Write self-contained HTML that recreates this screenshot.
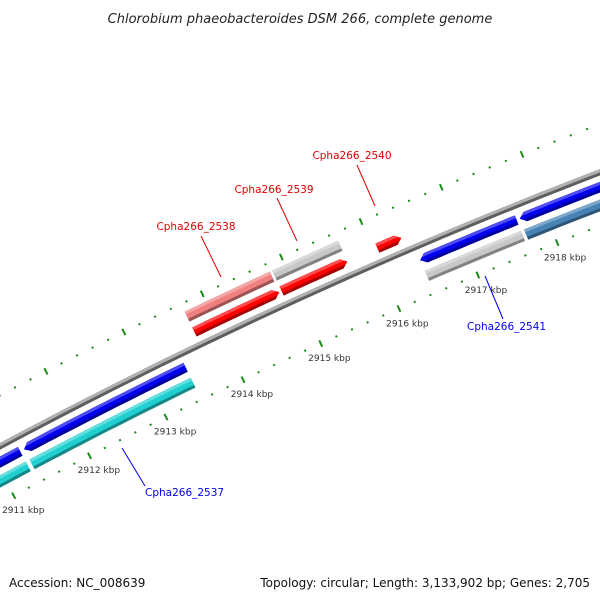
<!DOCTYPE html>
<html><head><meta charset="utf-8"><style>
html,body{margin:0;padding:0;background:#fff;width:600px;height:600px;overflow:hidden}
svg{display:block;font-family:"DejaVu Sans","Liberation Sans",sans-serif}
</style></head><body>
<svg id="chart" width="600" height="600" viewBox="0 0 600 600" xmlns="http://www.w3.org/2000/svg">
<rect width="600" height="600" fill="#fff"/>
<text x="300" y="23" text-anchor="middle" font-size="13" font-style="italic" fill="#222">Chlorobium phaeobacteroides DSM 266, complete genome</text>
<g id="plot"></g>
<text x="9" y="587" font-size="12" fill="#111">Accession: NC_008639</text>
<text x="590" y="587" text-anchor="end" font-size="12" fill="#111">Topology: circular; Length: 3,133,902 bp; Genes: 2,705</text>
</svg>
<script>
// data (kbp positions)
var fwdStarts = [2913.73, 2914.84, 2916.05];
var fwdEnds   = [2914.81, 2915.67, 2916.35];
var fwdNames  = ["Cpha266_2538", "Cpha266_2539", "Cpha266_2540"];
var fwdSimColors = ["#f08080", "#c8c8c8", null];
var revStarts = [2909.5, 2911.36, 2916.45, 2917.70];
var revEnds   = [2911.31, 2913.46, 2917.66, 2920.5];
var revNames  = ["", "Cpha266_2537", "Cpha266_2541", ""];
var revSimColors = ["#20d0d0", "#20d0d0", "#c8c8c8", "#4682b4"];
var tickLabels = [2911, 2912, 2913, 2914, 2915, 2916, 2917, 2918];

var NS = "http://www.w3.org/2000/svg";
var plot = document.getElementById("plot");
var R = 5300, S = 86.5, phi0 = -24.5 * Math.PI / 180;
var Cx = 300 - R * Math.sin(phi0), Cy = 298 + R * Math.cos(phi0);
function pt(p, h) {
  var f = phi0 + (p - 2915) * S / R, r = R + h;
  return [Cx + r * Math.sin(f), Cy - r * Math.cos(f)];
}
function mk(tag, attrs) {
  var e = document.createElementNS(NS, tag);
  for (var k in attrs) e.setAttribute(k, attrs[k]);
  plot.appendChild(e);
  return e;
}
function shade(c, f) {
  var n = parseInt(c.slice(1), 16), r = n >> 16, g = (n >> 8) & 255, b = n & 255;
  function m(v) { return Math.max(0, Math.min(255, Math.round(f > 0 ? v + (255 - v) * f : v * (1 + f)))); }
  return "rgb(" + m(r) + "," + m(g) + "," + m(b) + ")";
}
// polygon for sub-band [ha,hb] of feature centered at h, half-height hh
function band(p1, p2, h, hh, ha, hb, arrow) {
  var a = 6 / S, pts = [];
  function edgeEnd(y) { return arrow === 1 ? p2 - a * Math.abs(y - h) / hh : p2; }
  function edgeStart(y) { return arrow === -1 ? p1 + a * Math.abs(y - h) / hh : p1; }
  var steps = 20, i;
  for (i = 0; i <= steps; i++) { var p = edgeStart(hb) + (edgeEnd(hb) - edgeStart(hb)) * i / steps; pts.push(pt(p, hb)); }
  if (arrow === 1 && h < hb && h > ha) pts.push(pt(p2, h));
  for (i = steps; i >= 0; i--) { var q = edgeStart(ha) + (edgeEnd(ha) - edgeStart(ha)) * i / steps; pts.push(pt(q, ha)); }
  if (arrow === -1 && h < hb && h > ha) pts.push(pt(p1, h));
  return pts.map(function (v) { return v[0].toFixed(1) + "," + v[1].toFixed(1); }).join(" ");
}
function feature(p1, p2, h, H, color, arrow, name) {
  var hh = H / 2, lo = h - hh, hi = h + hh;
  var g = mk("g", {});
  
  
  var parts = [[lo, hi, shade(color, -0.35)], [lo + 3, hi, color], [hi - 3, hi, shade(color, 0.3)]];
  parts.forEach(function (pp) {
    var e = document.createElementNS(NS, "polygon");
    e.setAttribute("points", band(p1, p2, h, hh, pp[0], pp[1], arrow));
    e.setAttribute("fill", pp[2]);
    
    
    g.appendChild(e);
  });
}
// backbone
feature(2909, 2921, 0, 6, "#909090", 0, "backbone");
// ticks
for (var t = 29090; t <= 29210; t += 2) {
  var p = t / 10, major = (t % 10 === 0);
  [45, -50].forEach(function (hr) {
    var L = major ? 3.5 : 1, a = pt(p, hr + L), b = pt(p, hr - L);
    var ln = mk("line", { x1: a[0], y1: a[1], x2: b[0], y2: b[1], stroke: "#1a8a1a", "stroke-width": 2 });
    
    
  });
}
tickLabels.forEach(function (k) {
  var q = pt(k, -66);
  var tx = mk("text", { x: q[0] + 2, y: q[1] + 3, "text-anchor": "middle", "font-size": 9, fill: "#333" });
  tx.textContent = k + " kbp";
  
  
});
// similarity tracks & genes
fwdStarts.forEach(function (s, i) {
  if (fwdSimColors[i]) feature(s, fwdEnds[i], 31, 11, fwdSimColors[i], 0, "similarity-" + fwdNames[i]);
  feature(s, fwdEnds[i], 14, 10, "#ff0000", 1, "gene-" + fwdNames[i]);
});
revStarts.forEach(function (s, i) {
  feature(s, revEnds[i], -31, 11, revSimColors[i], 0, "similarity-rev-" + i);
  feature(s, revEnds[i], -14, 10, "#0000ee", -1, "gene-rev-" + i);
});
// labels
var labels = [
  ["Cpha266_2538", 196, 230, "#e00000", "middle", 201, 236, 221, 277],
  ["Cpha266_2539", 274, 193, "#e00000", "middle", 277, 198, 297, 241],
  ["Cpha266_2540", 352, 159, "#e00000", "middle", 357, 165, 375, 206],
  ["Cpha266_2541", 467, 330, "#0000ee", "start", 485, 276, 503, 319],
  ["Cpha266_2537", 145, 496, "#0000ee", "start", 122, 448, 145, 486]
];
labels.forEach(function (l) {
  var ln = mk("line", { x1: l[5], y1: l[6], x2: l[7], y2: l[8], stroke: l[3], "stroke-width": 1 });
  
  
  var tx = mk("text", { x: l[1], y: l[2], "text-anchor": l[4], "font-size": 10.5, fill: l[3] });
  tx.textContent = l[0];
  
  
});
</script>
</body></html>
